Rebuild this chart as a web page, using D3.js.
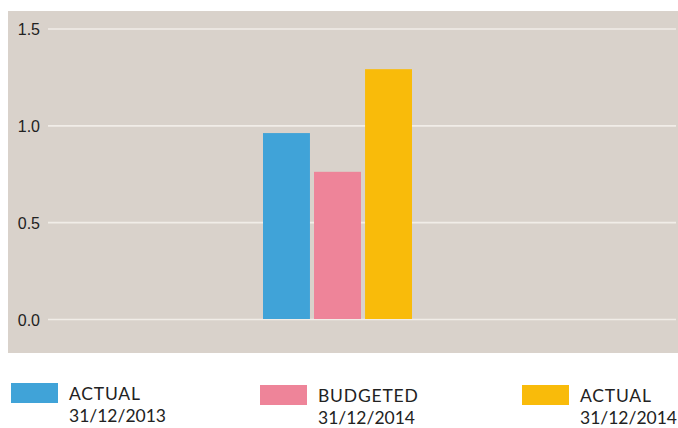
<!DOCTYPE html>
<html>
<head>
<meta charset="utf-8">
<script src="https://cdn.jsdelivr.net/npm/d3@7"></script>
<style>
  html, body { margin: 0; padding: 0; background: #fff; }
  svg { display: block; font-family: Lato, "Open Sans", sans-serif; }
  .tick text { fill: #222; font-size: 16px; }
  .legend text { fill: #222; font-size: 17.5px; }
  .legend text.name { letter-spacing: 0.8px; }
</style>
</head>
<body>
<svg id="chart" width="678" height="428"></svg>
<script>
// ──────────────  data
const series = ['ACTUAL 31/12/2013', 'BUDGETED 31/12/2014', 'ACTUAL 31/12/2014'];
const values = [0.96, 0.76, 1.29];
const colors = ['#40a3d8', '#ee8499', '#f9bb0a'];
const legendLines = [['ACTUAL', '31/12/2013'], ['BUDGETED', '31/12/2014'], ['ACTUAL', '31/12/2014']];
const yTicks = [0, 0.5, 1.0, 1.5];

// ──────────────  layout
const panel = { x: 8, y: 11, w: 670, h: 342 };
const grid = { left: 48, right: 676 };
const group = { center: 337.5, width: 149 };

const svg = d3.select('#chart');

svg.append('rect')
  .attr('x', panel.x).attr('y', panel.y)
  .attr('width', panel.w).attr('height', panel.h)
  .attr('fill', '#d9d2cb');

const y = d3.scaleLinear().domain([0, 1.5]).range([319, 28.5]);
const x = d3.scaleBand()
  .domain(series)
  .range([group.center - group.width / 2, group.center + group.width / 2])
  .paddingInner(0.08);

// gridlines + tick labels
const yAxis = d3.axisLeft(y)
  .tickValues(yTicks)
  .tickFormat(d3.format('.1f'))
  .tickSize(-(grid.right - grid.left))
  .tickPadding(8);

const ga = svg.append('g')
  .attr('transform', `translate(${grid.left},0)`)
  .call(yAxis);
ga.select('.domain').remove();
ga.selectAll('.tick line').attr('stroke', '#f1ede8').attr('stroke-width', 1.6);
ga.selectAll('.tick text').attr('dy', '0.38em');

// bars
svg.append('g').selectAll('rect')
  .data(series)
  .join('rect')
  .attr('x', d => x(d))
  .attr('width', x.bandwidth())
  .attr('y', (d, i) => y(values[i]))
  .attr('height', (d, i) => y(0) - y(values[i]))
  .attr('fill', (d, i) => colors[i]);

// legend
const legendX = [11, 260, 522];
const legendY = [383, 385, 385];
const lg = svg.append('g').attr('class', 'legend')
  .selectAll('g')
  .data(series)
  .join('g')
  .attr('transform', (d, i) => `translate(${legendX[i]},${legendY[i]})`);

lg.append('rect')
  .attr('width', 47).attr('height', 20)
  .attr('fill', (d, i) => colors[i]);

lg.append('text')
  .attr('class', 'name')
  .attr('x', 58)
  .attr('y', 17)
  .text((d, i) => legendLines[i][0]);

lg.append('text')
  .attr('x', 58)
  .attr('y', 39)
  .text((d, i) => legendLines[i][1]);
</script>
</body>
</html>
